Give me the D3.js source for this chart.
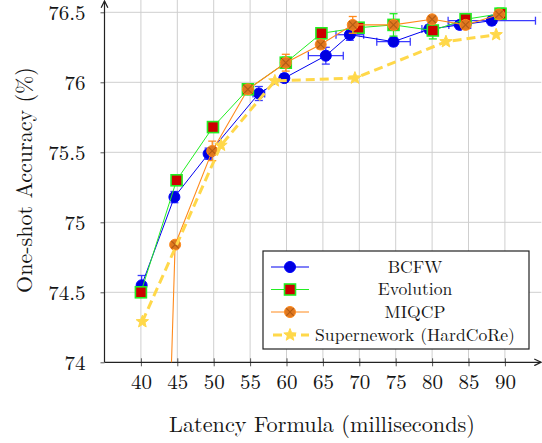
<!DOCTYPE html>
<html><head><meta charset="utf-8">
<script src="https://cdn.jsdelivr.net/npm/d3@7"></script>
<style>body{margin:0;background:#fff;} svg{display:block;}</style>
</head><body>
<svg id="c" width="542" height="443"></svg>
<script>
// ---- data ----
const xTicks = [40,45,50,55,60,65,70,75,80,85,90];
const yTicks = [74,74.5,75,75.5,76,76.5];
const seriesNames = ["BCFW","Evolution","MIQCP","Supernework (HardCoRe)"];

const bcfwX    = [40.1,44.6,49.3,56.2,59.7,65.4,68.7,74.7,79.6,83.8,88.2];
const bcfwY    = [74.55,75.18,75.49,75.92,76.03,76.19,76.34,76.29,76.38,76.41,76.44];
const bcfwXErr = [0,0,0.5,0.8,0,2.4,1.9,2.3,1.0,1.5,6.0];
const bcfwYErr = [0.07,0.04,0.04,0.05,0.03,0.06,0.04,0.03,0.03,0.03,0.03];

const evoX    = [40,44.9,49.9,54.7,59.9,64.8,69.9,74.7,80.1,84.6,89.4];
const evoY    = [74.50,75.30,75.68,75.95,76.14,76.35,76.39,76.41,76.37,76.45,76.49];
const evoYErr = [0.03,0.03,0.03,0.02,0.04,0.04,0.03,0.08,0.06,0.04,0.04];

const miqX    = [42.9,44.7,49.8,54.7,59.9,64.7,69.1,74.7,80.0,84.6,89.2];
const miqY    = [71.8,74.84,75.51,75.95,76.14,76.27,76.41,76.41,76.45,76.41,76.485];
const miqYErr = [0,0,0.07,0.02,0.06,0.03,0.06,0.03,0.02,0.03,0.03];

const supX = [40.2,51,58.4,69.4,81.9,88.8];
const supY = [74.29,75.55,76.01,76.03,76.29,76.34];

const FONT = '"Latin Modern Roman","CMU Serif","Liberation Serif",serif';
const INK = "#151515";

// ---- scales ----
const svg = d3.select("#c");
const x = d3.scaleLinear().domain([35,95]).range([104.5,541.3]);
const y = d3.scaleLinear().domain([74,76.5]).range([362.3,12.3]);
const X0 = x(35), Y0 = y(74);

function fitText(sel, target, base){
  sel.attr("font-size", base);
  const w = sel.node().getComputedTextLength();
  if (w > 0) sel.attr("font-size", base * target / w);
}

const defs = svg.append("defs");
defs.append("clipPath").attr("id","clip").append("rect")
  .attr("x",X0).attr("y",0).attr("width",542-X0).attr("height",Y0);

// grid
const grid = svg.append("g");
grid.selectAll("line.v").data(xTicks).join("line")
  .attr("x1",d=>x(d)).attr("x2",d=>x(d)).attr("y1",0).attr("y2",Y0)
  .attr("stroke","#cfcfcf").attr("stroke-width",1);
grid.selectAll("line.h").data(yTicks.slice(1)).join("line")
  .attr("y1",d=>y(d)).attr("y2",d=>y(d)).attr("x1",X0).attr("x2",x(95))
  .attr("stroke","#cfcfcf").attr("stroke-width",1);

// axes
const xAxis = d3.axisBottom(x).tickValues(xTicks).tickSize(4).tickPadding(8).tickFormat(d3.format("d"));
const gx = svg.append("g").attr("transform",`translate(0,${Y0})`).call(xAxis);
gx.select(".domain").remove();
gx.selectAll(".tick line").attr("stroke","#555").attr("y1",-4);
gx.selectAll(".tick text").attr("font-size",21).style("font-family",FONT).attr("fill",INK);

const yAxis = d3.axisLeft(y).tickValues(yTicks).tickSize(4).tickPadding(15).tickFormat(d=>String(d));
const gy = svg.append("g").attr("transform",`translate(${X0},0)`).call(yAxis);
gy.select(".domain").remove();
gy.selectAll(".tick line").attr("stroke","#555").attr("x1",-4).attr("x2",0);
gy.selectAll(".tick text").attr("font-size",21).style("font-family",FONT).attr("fill",INK).attr("dy","0.33em");

// axis lines with arrows
defs.append("marker").attr("id","arr").attr("viewBox","0 0 10 10").attr("refX",9).attr("refY",5)
  .attr("markerWidth",7).attr("markerHeight",7).attr("orient","auto")
  .append("path").attr("d","M1,1 L9,5 L1,9").attr("fill","none").attr("stroke","#222").attr("stroke-width",1.5);
svg.append("line").attr("x1",X0).attr("x2",541).attr("y1",Y0).attr("y2",Y0)
  .attr("stroke","#222").attr("stroke-width",1.2).attr("marker-end","url(#arr)");
svg.append("line").attr("x1",X0).attr("x2",X0).attr("y1",Y0).attr("y2",1)
  .attr("stroke","#222").attr("stroke-width",1.2).attr("marker-end","url(#arr)");

// labels
const xl = svg.append("text").attr("x",322).attr("y",432).attr("text-anchor","middle").style("font-family",FONT).attr("fill",INK)
  .text("Latency Formula (milliseconds)");
fitText(xl, 306, 20);
const yl = svg.append("text").attr("transform","translate(32,180) rotate(-90)").attr("text-anchor","middle").style("font-family",FONT).attr("fill",INK)
  .text("One-shot Accuracy (%)");
fitText(yl, 226, 20);

const plot = svg.append("g").attr("clip-path","url(#clip)");
const line = d3.line().x(d=>x(d[0])).y(d=>y(d[1]));

function errBars(g, xs, ys, xe, ye, color, op){
  const eb = g.append("g").attr("stroke",color).attr("stroke-width",1.3).attr("opacity",op);
  xs.forEach((xv,i)=>{
    const cx=x(xv), cy=y(ys[i]);
    if(ye[i]>0){
      const t=y(ys[i]+ye[i]), b=y(ys[i]-ye[i]);
      eb.append("line").attr("x1",cx).attr("x2",cx).attr("y1",t).attr("y2",b);
      eb.append("line").attr("x1",cx-4).attr("x2",cx+4).attr("y1",t).attr("y2",t);
      eb.append("line").attr("x1",cx-4).attr("x2",cx+4).attr("y1",b).attr("y2",b);
    }
    if(xe && xe[i]>0){
      const l=x(xv-xe[i]), r=x(xv+xe[i]);
      eb.append("line").attr("x1",l).attr("x2",r).attr("y1",cy).attr("y2",cy);
      eb.append("line").attr("x1",l).attr("x2",l).attr("y1",cy-4).attr("y2",cy+4);
      eb.append("line").attr("x1",r).attr("x2",r).attr("y1",cy-4).attr("y2",cy+4);
    }
  });
}

const C = {blue:"#0000f0", green:"#22ee22", red:"#cc0000", orange:"#ff8a1c", orFill:"#e07820", orX:"#a05010", yellow:"#ffd84a"};

function circleMark(g,cx,cy){ g.append("circle").attr("cx",cx).attr("cy",cy).attr("r",5.5).attr("fill","#0000e0").attr("stroke","#0000ff").attr("stroke-width",1); }
function squareMark(g,cx,cy){ g.append("rect").attr("x",cx-5.5).attr("y",cy-5.5).attr("width",11).attr("height",11).attr("fill",C.red).attr("stroke",C.green).attr("stroke-width",1.6); }
function otimesMark(g,cx,cy){
  g.append("circle").attr("cx",cx).attr("cy",cy).attr("r",5.5).attr("fill",C.orFill).attr("stroke",C.orange).attr("stroke-width",1);
  const k=3.8;
  g.append("path").attr("d",`M${cx-k},${cy-k}L${cx+k},${cy+k}M${cx-k},${cy+k}L${cx+k},${cy-k}`).attr("stroke",C.orX).attr("stroke-width",1.1).attr("opacity",0.7);
}
function starMark(g,cx,cy){
  const pts=[];
  for(let i=0;i<10;i++){const r=i%2?2.8:6.5;const a=-Math.PI/2+i*Math.PI/5;pts.push([cx+r*Math.cos(a),cy+r*Math.sin(a)]);}
  g.append("path").attr("d","M"+pts.map(p=>p.join(",")).join("L")+"Z").attr("fill",C.yellow).attr("stroke",C.yellow).attr("stroke-width",1);
}

// BCFW
const gB = plot.append("g");
errBars(gB, bcfwX, bcfwY, bcfwXErr, bcfwYErr, "#1a1aff", 0.85);
gB.append("path").attr("d",line(bcfwX.map((v,i)=>[v,bcfwY[i]]))).attr("fill","none").attr("stroke",C.blue).attr("stroke-width",1);
bcfwX.forEach((v,i)=>circleMark(gB,x(v),y(bcfwY[i])));

// Evolution
const gE = plot.append("g");
errBars(gE, evoX, evoY, null, evoYErr, C.green, 1);
gE.append("path").attr("d",line(evoX.map((v,i)=>[v,evoY[i]]))).attr("fill","none").attr("stroke",C.green).attr("stroke-width",1);
evoX.forEach((v,i)=>squareMark(gE,x(v),y(evoY[i])));

// MIQCP
const gM = plot.append("g");
errBars(gM, miqX, miqY, null, miqYErr, C.orange, 1);
gM.append("path").attr("d",line(miqX.map((v,i)=>[v,miqY[i]]))).attr("fill","none").attr("stroke",C.orange).attr("stroke-width",1.1);
miqX.forEach((v,i)=>otimesMark(gM,x(v),y(miqY[i])));

// Supernetwork
const gS = plot.append("g");
gS.append("path").attr("d",line(supX.map((v,i)=>[v,supY[i]]))).attr("fill","none").attr("stroke",C.yellow).attr("stroke-width",3).attr("stroke-dasharray","9,5");
supX.forEach((v,i)=>starMark(gS,x(v),y(supY[i])));

// legend
const lg = svg.append("g");
lg.append("rect").attr("x",263).attr("y",251).attr("width",266).attr("height",98).attr("fill","#fff").attr("stroke","#222").attr("stroke-width",1.2);
const rowY = [267,289.5,312,335];
const markers = [circleMark, squareMark, otimesMark, starMark];
const lColors = [C.blue, C.green, C.orange, C.yellow];
const probe = lg.append("text").style("font-family",FONT).text(seriesNames[3]);
fitText(probe, 200, 18);
const legendSize = +probe.attr("font-size");
probe.remove();
seriesNames.forEach((n,i)=>{
  const ln = lg.append("line").attr("x1",271).attr("x2",309).attr("y1",rowY[i]).attr("y2",rowY[i]).attr("stroke",lColors[i]).attr("stroke-width",i==3?3:1);
  if(i==3) ln.attr("stroke-dasharray","9,5").attr("stroke-dashoffset",-2);
  markers[i](lg,290,rowY[i]);
  lg.append("text").attr("x",415).attr("y",rowY[i]).attr("dy","0.33em").attr("text-anchor","middle").style("font-family",FONT).attr("fill",INK).attr("font-size",legendSize).text(n);
});
</script>
</body></html>
